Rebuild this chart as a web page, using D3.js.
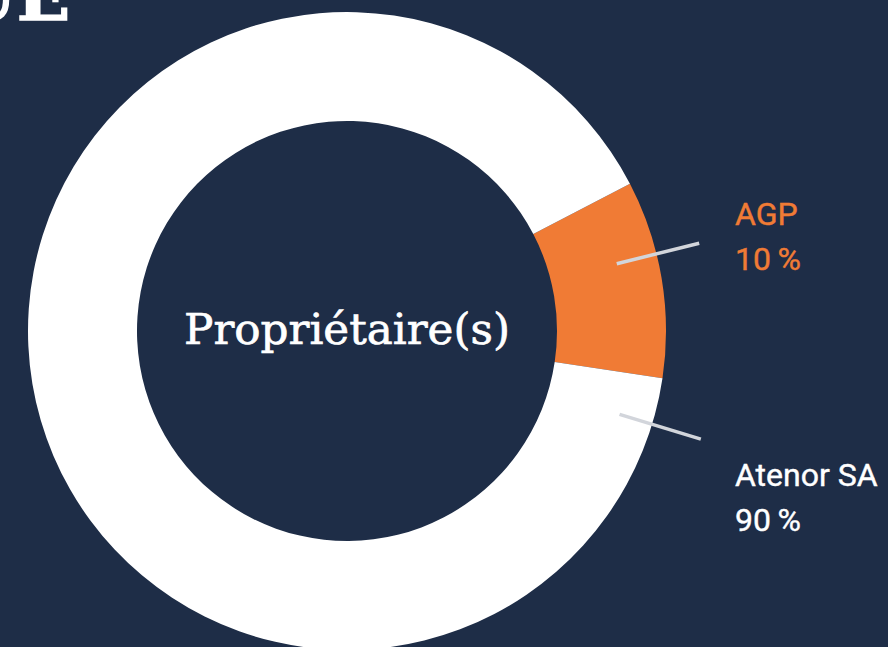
<!DOCTYPE html>
<html>
<head>
<meta charset="utf-8">
<script src="https://cdn.jsdelivr.net/npm/d3@7"></script>
<style>
  html, body { margin: 0; padding: 0; background: #1e2d47; overflow: hidden; }
  svg { display: block; }
</style>
</head>
<body>
<svg width="888" height="647"></svg>
<script>
// owners and their share
const owners = ["AGP", "Atenor SA"];
const shares = [10, 90];
const shareLabels = ["10\u2009%", "90\u2009%"];
const sliceColors = ["#f07b35", "#ffffff"];

const width = 888, height = 647;
const cx = 347, cy = 331;
const outerR = 319, innerR = 210;

const svg = d3.select("svg");

svg.append("rect")
  .attr("width", width)
  .attr("height", height)
  .attr("fill", "#1e2d47");

// cut-off title at the very top
svg.append("text")
  .attr("x", 70)
  .attr("y", 20)
  .attr("text-anchor", "end")
  .attr("font-family", "DejaVu Serif")
  .attr("font-weight", "bold")
  .attr("font-size", 70)
  .attr("fill", "#ffffff")
  .attr("stroke", "#ffffff")
  .attr("stroke-width", 1.5)
  .text("TECHNIQUE");

const startA = 62.5 * Math.PI / 180;
const pie = d3.pie().sort(null).value(d => d)
  .startAngle(startA).endAngle(startA + 2 * Math.PI);
const arcs = pie(shares);

const arc = d3.arc().innerRadius(innerR).outerRadius(outerR);

const g = svg.append("g").attr("transform", `translate(${cx},${cy})`);

g.selectAll("path.slice")
  .data(arcs)
  .enter().append("path")
  .attr("class", "slice")
  .attr("d", arc)
  .attr("fill", (d, i) => sliceColors[i]);

// leader lines, angle offset into each slice
const leaderOffset = [13.5, 8.5];
const leaderIn = [278, 285];
const leaderOut = [363, 370];
g.selectAll("line.leader")
  .data(arcs)
  .enter().append("line")
  .attr("class", "leader")
  .each(function(d, i) {
    const a = d.startAngle + leaderOffset[i] * Math.PI / 180;
    d3.select(this)
      .attr("x1", Math.sin(a) * leaderIn[i])
      .attr("y1", -Math.cos(a) * leaderIn[i])
      .attr("x2", Math.sin(a) * leaderOut[i])
      .attr("y2", -Math.cos(a) * leaderOut[i]);
  })
  .attr("stroke", "#d2d5db")
  .attr("stroke-width", 3.5);

// labels on the right
const labelX = 735;
const labelY = [225, 486];
const labelColors = ["#f07b35", "#ffffff"];
owners.forEach((name, i) => {
  const t = svg.append("text")
    .attr("x", labelX)
    .attr("font-family", "Roboto")
    .attr("font-size", 32)
    .attr("fill", labelColors[i])
    .attr("stroke", labelColors[i])
    .attr("stroke-width", 0.4);
  t.append("tspan").attr("x", labelX).attr("y", labelY[i]).text(name);
  t.append("tspan").attr("x", labelX).attr("y", labelY[i] + 45).text(shareLabels[i]);
});

// centre title
const center = svg.append("text")
  .attr("x", cx)
  .attr("y", 344)
  .attr("text-anchor", "middle")
  .attr("font-family", "DejaVu Serif")
  .attr("font-size", 40)
  .attr("fill", "#ffffff")
  .attr("stroke", "#ffffff")
  .attr("stroke-width", 0.7)
  .text("Propriétaire(s)");
const w = center.node().getComputedTextLength();
center.attr("font-size", 40 * 326 / w);
</script>
</body>
</html>
